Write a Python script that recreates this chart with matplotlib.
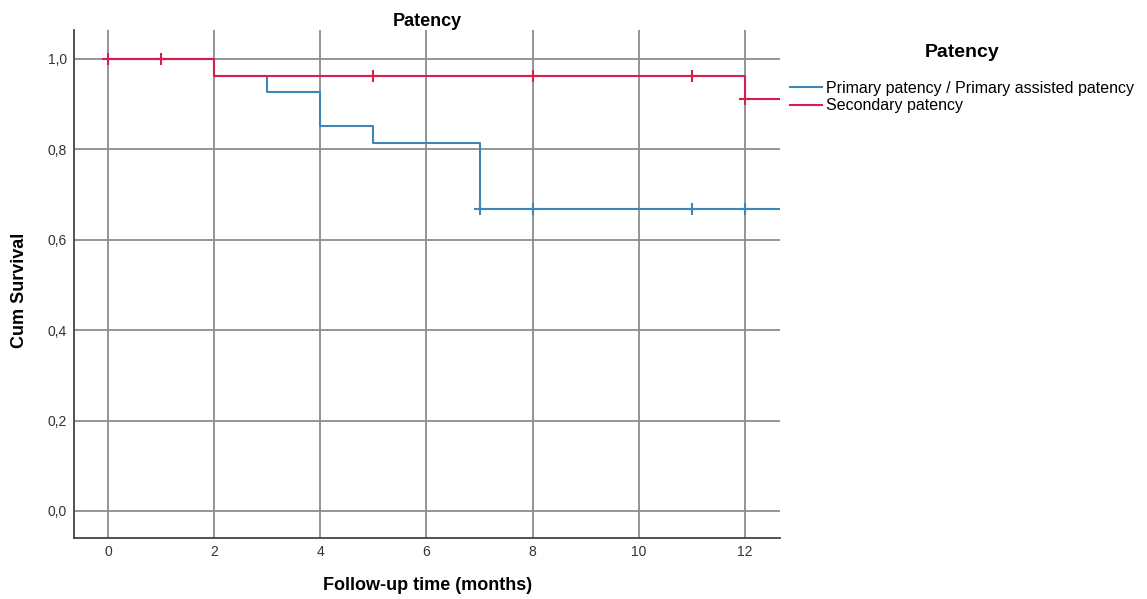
import numpy as np
import matplotlib
matplotlib.use("Agg")
import matplotlib.pyplot as plt
from matplotlib.lines import Line2D

plt.rcParams['font.family'] = ['Liberation Sans', 'DejaVu Sans']

# Kaplan-Meier step data (time, survival after that time)
prim_t = [0, 2, 3, 4, 5, 7, 13]
prim_s = [1.0, 0.963, 0.926, 0.852, 0.815, 0.667, 0.667]
prim_cens_t = [7, 8, 11, 12]
prim_cens_s = [0.667, 0.667, 0.667, 0.667]

sec_t = [0, 2, 12, 13]
sec_s = [1.0, 0.963, 0.911, 0.911]
sec_cens_t = [0, 1, 5, 8, 11, 12]
sec_cens_s = [1.0, 1.0, 0.963, 0.963, 0.963, 0.911]

labels = ['Primary patency / Primary assisted patency', 'Secondary patency']
blue = '#3d86b8'
red = '#d81e4e'

fig = plt.figure(figsize=(11.47, 5.99), dpi=100)
ax = fig.add_axes([0.0645, 0.1018, 0.6155, 0.848])

ax.step(prim_t, prim_s, where='post', color=blue, lw=1.5, zorder=3)
ax.plot(prim_cens_t, prim_cens_s, ls='none', marker='+', ms=9, mew=1.5, color=blue, zorder=4)

ax.step(sec_t, sec_s, where='post', color=red, lw=1.5, zorder=3)
ax.plot(sec_cens_t, sec_cens_s, ls='none', marker='+', ms=9, mew=1.5, color=red, zorder=4)

ax.set_xlim(-0.64, 12.66)
ax.set_ylim(-0.06, 1.064)
ax.set_xticks(np.arange(0, 13, 2))
ax.set_yticks(np.arange(0, 1.01, 0.2))
ax.set_yticklabels([f'{v:.1f}'.replace('.', ',') for v in np.arange(0, 1.01, 0.2)])
ax.grid(True, color='#8c8c8c', lw=1.3)
ax.set_axisbelow(True)
for s in ['top', 'right']:
    ax.spines[s].set_visible(False)
for s in ['left', 'bottom']:
    ax.spines[s].set_color('#444444')
    ax.spines[s].set_linewidth(1.3)
ax.tick_params(length=0, labelsize=10, colors='#333333')
ax.tick_params(axis='x', pad=5)
ax.tick_params(axis='y', pad=5)

ax.set_title('Patency', fontsize=13, fontweight='bold', pad=3)
fig.text(0.373, 0.023, 'Follow-up time (months)', fontsize=13, fontweight='bold',
         ha='center', va='center')
fig.text(0.017, 0.515, 'Cum Survival', fontsize=13, fontweight='bold',
         rotation=90, ha='center', va='center')

handles = [Line2D([], [], color=blue, lw=1.5), Line2D([], [], color=red, lw=1.5)]
leg = fig.legend(handles, labels, title='Patency', loc='upper left',
                 bbox_to_anchor=(0.676, 0.95), frameon=False, fontsize=11.5,
                 handlelength=2.0, handletextpad=0.3, labelspacing=0.15,
                 title_fontproperties={'size': 14, 'weight': 'bold'})
leg._legend_box.sep = 14

fig.savefig('out.png', dpi=100)
